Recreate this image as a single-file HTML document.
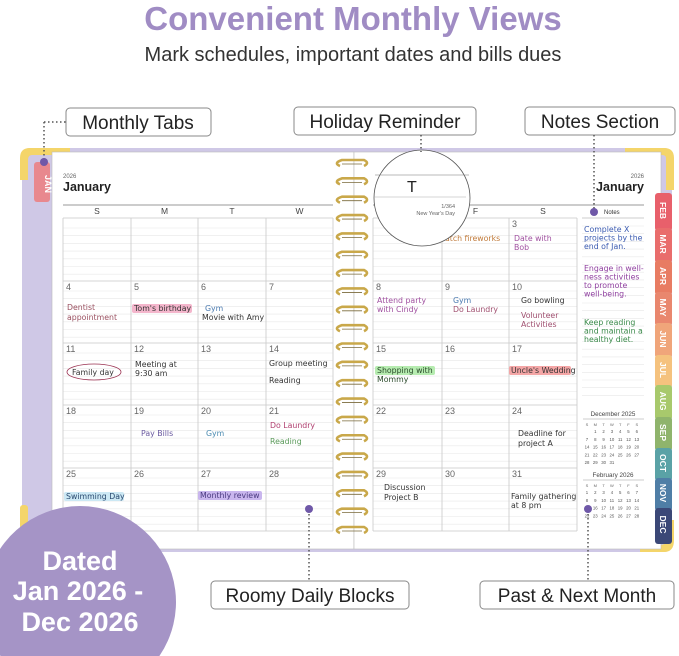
<!DOCTYPE html>
<html><head><meta charset="utf-8"><style>
html,body{margin:0;padding:0;background:#fff;width:679px;height:656px;overflow:hidden;position:relative}
svg{display:block;position:absolute;left:0;top:0;overflow:hidden}
text{font-family:"Liberation Sans",sans-serif}
.hw{font-family:"DejaVu Sans",sans-serif;font-size:7.8px}
</style></head><body>
<svg id="s" width="679" height="656" viewBox="0 0 679 656" xmlns="http://www.w3.org/2000/svg">
<text x="353" y="30" text-anchor="middle" font-size="33" font-weight="bold" fill="#a08cc4">Convenient Monthly Views</text>
<text x="353" y="61" text-anchor="middle" font-size="20" fill="#333">Mark schedules, important dates and bills dues</text>
<rect x="22" y="148" width="650" height="404" rx="8" fill="#cfc8e6"/>
<path d="M20 180 V158 Q20 148 30 148 H70 V155 H32 Q28 155 28 160 V180Z" fill="#f4d56a"/>
<rect x="20" y="505" width="8" height="32" rx="3" fill="#f4d56a"/>
<path d="M625 148 H664 Q674 148 674 158 V190 H666 V158 Q666 155 662 155 H625Z" fill="#f4d56a"/>
<path d="M640 552 H664 Q674 552 674 540 V520 H666 V540 Q666 545 660 545 H640Z" fill="#f4d56a"/>
<rect x="34" y="162" width="16" height="40" rx="3" fill="#e8888e"/>
<text transform="translate(45 184) rotate(90)" text-anchor="middle" font-size="9" font-weight="bold" fill="#fff">JAN</text>
<rect x="52" y="152" width="302" height="397" fill="#fff" stroke="#bbb" stroke-width="0.6"/>
<rect x="354" y="152" width="307" height="397" fill="#fff" stroke="#bbb" stroke-width="0.6"/>
<g id="g"></g>
<g id="tabs"></g>
<g id="spiral"></g>
<circle cx="422" cy="198" r="48" fill="#fff" stroke="#555" stroke-width="0.8"/>
<line x1="375" y1="175" x2="469" y2="175" stroke="#777" stroke-width="0.6"/>
<line x1="374" y1="197" x2="466" y2="197" stroke="#aaa" stroke-width="0.6"/>
<text x="407" y="192" font-size="16" fill="#222">T</text>
<text x="455" y="208" text-anchor="end" font-size="5.5" fill="#666">1/364</text>
<text x="455" y="215" text-anchor="end" font-size="5.5" fill="#666">New Year's Day</text>
<g font-size="19" fill="#222">
<rect x="66" y="108" width="145" height="28" rx="4" fill="#fff" stroke="#888"/><text x="138" y="129" text-anchor="middle">Monthly Tabs</text>
<rect x="294" y="107" width="182" height="28" rx="4" fill="#fff" stroke="#888"/><text x="385" y="128" text-anchor="middle">Holiday Reminder</text>
<rect x="525" y="107" width="150" height="28" rx="4" fill="#fff" stroke="#888"/><text x="600" y="128" text-anchor="middle">Notes Section</text>
<rect x="211" y="581" width="198" height="28" rx="4" fill="#fff" stroke="#888"/><text x="310" y="602" text-anchor="middle">Roomy Daily Blocks</text>
<rect x="480" y="581" width="194" height="28" rx="4" fill="#fff" stroke="#888"/><text x="577" y="602" text-anchor="middle">Past &amp; Next Month</text>
</g>
<g stroke="#555" stroke-width="1.5" stroke-dasharray="1.5 2.5">
<line x1="44" y1="122" x2="66" y2="122"/><line x1="44" y1="122" x2="44" y2="162"/>
<line x1="421" y1="135" x2="421" y2="152"/>
<line x1="594" y1="135" x2="594" y2="212"/>
<line x1="309" y1="510" x2="309" y2="581"/>
<line x1="588" y1="510" x2="588" y2="581"/>
</g>
<g fill="#6f58a8"><circle cx="44" cy="162" r="4"/><circle cx="594" cy="212" r="4"/><circle cx="309" cy="509" r="4"/><circle cx="588" cy="509" r="4"/></g>
<path d="M0.6 656 A96 96 0 1 1 159.4 656 Z" fill="#a594c6"/>
<g font-size="27" font-weight="bold" fill="#fff" text-anchor="middle">
<text x="80" y="570">Dated</text><text x="78" y="600">Jan 2026 -</text><text x="80" y="631">Dec 2026</text></g>
</svg>
<script>
const NS="http://www.w3.org/2000/svg",g=document.getElementById('g');
function el(t,a,txt,p){const e=document.createElementNS(NS,t);for(const k in a)e.setAttribute(k,a[k]);if(txt!=null)e.textContent=txt;(p||g).appendChild(e);return e;}
function L(x1,y1,x2,y2,c,w){el('line',{x1,y1,x2,y2,stroke:c||'#ddd','stroke-width':w||0.6});}
function T(x,y,s,o){o=o||{};el('text',Object.assign({x,y,'font-size':o.fs||8,fill:o.c||'#444'},o.a||{}),s);}
T(63,178,'2026',{fs:6,c:'#666'});T(63,191,'January',{fs:12.5,c:'#222',a:{'font-weight':'bold'}});
T(644,178,'2026',{fs:6,c:'#666',a:{'text-anchor':'end'}});T(644,191,'January',{fs:12.5,c:'#222',a:{'font-weight':'bold','text-anchor':'end'}});
L(63,205,333,205,'#999',1);L(373,205,644,205,'#999',1);
const rows=[218,281,343,405,468,531];
const lc=[63,131,198,266,333],rc=[373,442,509,577];
['S','M','T','W'].forEach((d,i)=>T((lc[i]+lc[i+1])/2,214,d,{fs:8.5,c:'#444',a:{'text-anchor':'middle'}}));
['T','F','S'].forEach((d,i)=>T((rc[i]+rc[i+1])/2,214,d,{fs:8.5,c:'#444',a:{'text-anchor':'middle'}}));
function grid(cols){
 for(let r=0;r<5;r++){let t=rows[r];for(let y=t+10;y<rows[r+1];y+=7.7)L(cols[0],y,cols[cols.length-1],y,'#e8e8e8',0.6);}
 rows.forEach(y=>L(cols[0],y,cols[cols.length-1],y,'#c8c8c8',0.8));
 cols.forEach(x=>L(x,218,x,531,'#c8c8c8',0.8));
}
grid(lc);grid(rc);
T(604,214,'Notes',{fs:6,c:'#333'});L(582,218,644,218,'#bbb',0.8);
for(let y=226;y<400;y+=7.7)L(582,y,644,y,'#e8e8e8',0.6);
const L1=[[4,5,6,7],[11,12,13,14],[18,19,20,21],[25,26,27,28]];
L1.forEach((r,i)=>r.forEach((d,j)=>T(lc[j]+3,rows[i+1]+9,d,{fs:9,c:'#666'})));
const R1=[[null,2,3],[8,9,10],[15,16,17],[22,23,24],[29,30,31]];
R1.forEach((r,i)=>r.forEach((d,j)=>{if(d)T(rc[j]+3,rows[i]+9,d,{fs:9,c:'#666'})}));
const hw=(x,y,s,c,bg,w)=>{if(bg)el('rect',{x:x-2,y:y-7,width:w,height:9,fill:bg,rx:2});el('text',{x,y,class:'hw',fill:c},s);};
hw(67,310,'Dentist','#9a5060');hw(67,320,'appointment','#9a5060');
hw(134,311,"Tom's birthday",'#333','#f4b6cc',60);
hw(205,311,'Gym','#4a7ab0');hw(202,320,'Movie with Amy','#333');
el('ellipse',{cx:94,cy:372,rx:27,ry:8,fill:'none',stroke:'#9a3050','stroke-width':0.8});hw(72,375,'Family day','#333');
hw(135,367,'Meeting at','#333');hw(135,376,'9:30 am','#333');
hw(269,366,'Group meeting','#333');hw(269,383,'Reading','#333');
hw(141,436,'Pay Bills','#6a5aa0');hw(206,436,'Gym','#4a8ab0');
hw(270,428,'Do Laundry','#b04070');hw(270,444,'Reading','#5a9a5a');
hw(66,499,'Swimming Day','#2a4a70','#cce8f4',60);hw(200,498,'Monthly review','#4a3a80','#c9b6ee',64);
hw(445,241,'atch fireworks','#c07a3a');hw(514,241,'Date with','#a050a0');hw(514,250,'Bob','#a050a0');
hw(377,303,'Attend party','#a050a0');hw(377,312,'with Cindy','#a050a0');
hw(453,303,'Gym','#4a7ab0');hw(453,312,'Do Laundry','#a05070');
hw(521,303,'Go bowling','#333');hw(521,318,'Volunteer','#a05070');hw(521,327,'Activities','#a05070');
hw(377,373,'Shopping with','#2a4a2a','#b6ecb0',60);hw(377,382,'Mommy','#2a4a2a');
hw(511,373,"Uncle's Wedding",'#333','#f4a6a6',62);
hw(518,436,'Deadline for','#333');hw(518,446,'project A','#333');
hw(384,490,'Discussion','#333');hw(384,500,'Project B','#333');
hw(511,499,'Family gathering','#333');hw(511,508,'at 8 pm','#333');
[['Complete X','projects by the','end of Jan.','#3a5ab0',232],['Engage in well-','ness activities','to promote','well-being.','#9040a0',271],['Keep reading','and maintain a','healthy diet.','#3a8a4a',325]].forEach(a=>{const y0=a[a.length-1],c=a[a.length-2];for(let i=0;i<a.length-2;i++)hw(584,y0+i*8.5,a[i],c);});
function mini(y,title){T(613,y,title,{fs:6.3,c:'#444',a:{'text-anchor':'middle'}});L(583,y+3,644,y+3,'#999',0.6);
 'SMTWTFS'.split('').forEach((d,i)=>T(587+i*8.3,y+10,d,{fs:4,c:'#666',a:{'text-anchor':'middle'}}));}
mini(416,'December 2025');mini(477,'February 2026');
function days(y,start,n){for(let d=1;d<=n;d++){const p=start+d-1;T(587+(p%7)*8.3,y+17+Math.floor(p/7)*7.8,d,{fs:4.3,c:'#555',a:{'text-anchor':'middle'}});}}
days(416,1,31);days(477,0,28);
const tabs=[['FEB','#e8606b',193],['MAR','#e96d6c',228],['APR','#e87c63',260],['MAY','#e9876e',292],['JUN','#f0a57a',323],['JUL','#f5c27e',355],['AUG','#a8c96c',385],['SEP','#8fb46c',417],['OCT','#5aa2a6',448],['NOV','#4f7ea6',478],['DEC','#3b4877',508]];
const tg=document.getElementById('tabs');
tabs.forEach((t,i)=>{const h=(i<10?tabs[i+1][2]:541)-t[2];el('rect',{x:655,y:t[2],width:17,height:h+3,rx:3,fill:t[1]},null,tg);
 el('text',{x:0,y:0,transform:`translate(660 ${t[2]+h/2}) rotate(90)`,'text-anchor':'middle','font-size':8.5,'font-weight':'bold',fill:'#fff'},t[0],tg);});
const sp=document.getElementById('spiral');
for(let i=0;i<21;i++){const y=163+i*18.35;
 el('path',{d:`M340 ${y+3} Q333 ${y} 342 ${y-3} L364 ${y-3} Q370 ${y} 364 ${y+3}`,fill:'none',stroke:'#c9a84a','stroke-width':2.6},null,sp);
 el('path',{d:`M342 ${y+1} L362 ${y+1}`,fill:'none',stroke:'#7a6a3a','stroke-width':0.8},null,sp);}
</script>
</body></html>
